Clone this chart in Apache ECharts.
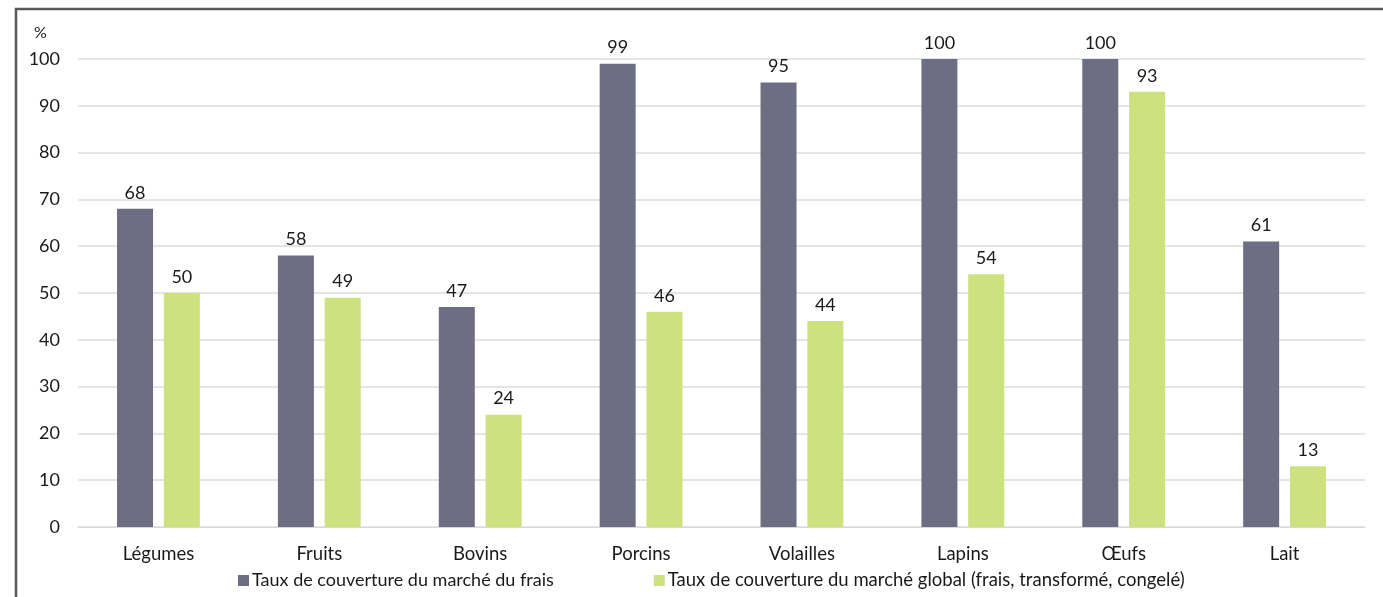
<!DOCTYPE html>
<html>
<head>
<meta charset="utf-8">
<style>
  html, body { margin: 0; padding: 0; background: #ffffff; }
  #chart { width: 1383px; height: 597px; }
</style>
<script src="https://cdn.jsdelivr.net/npm/echarts@6/dist/echarts.min.js"></script>
</head>
<body>
<div id="chart"></div>
<script>
// Products
var categories = ['Légumes', 'Fruits', 'Bovins', 'Porcins', 'Volailles', 'Lapins', 'Œufs', 'Lait'];
// Coverage of the fresh market (%)
var fraisValues = [68, 58, 47, 99, 95, 100, 100, 61];
// Coverage of the overall market: fresh, processed, frozen (%)
var globalValues = [50, 49, 24, 46, 44, 54, 93, 13];
var seriesNames = [
  'Taux de couverture du marché du frais',
  'Taux de couverture du marché global (frais, transformé, congelé)'
];

var FONT = 'Lato, "Open Sans", sans-serif';
var TEXT = '#1a1a1a';
var chart = echarts.init(document.getElementById('chart'), null, { renderer: 'canvas' });

var labelStyle = {
  show: true,
  position: 'top',
  distance: 7,
  color: TEXT,
  fontFamily: FONT,
  fontSize: 18
};

chart.setOption({
  animation: false,
  backgroundColor: '#ffffff',
  textStyle: { fontFamily: FONT },
  grid: { left: 78, right: 18, top: 59, bottom: 70, containLabel: false },
  graphic: [
    {
      type: 'polyline',
      shape: { points: [[16, 597], [16, 9], [1383, 9]] },
      style: { stroke: '#5a5a5a', lineWidth: 2.5, fill: null }
    },
    {
      type: 'text',
      left: 34,
      top: 25,
      style: { text: '%', fill: TEXT, font: '16px ' + FONT }
    }
  ],
  legend: {
    bottom: 2,
    left: 233,
    itemWidth: 11,
    itemHeight: 11,
    itemGap: 100,
    icon: 'rect',
    textStyle: { color: TEXT, fontFamily: FONT, fontSize: 18, padding: [0, 0, 0, -2] },
    data: [
      { name: seriesNames[0] },
      { name: seriesNames[1], textStyle: { fontSize: 18.5 } }
    ]
  },
  xAxis: {
    type: 'category',
    data: categories,
    axisTick: { show: false },
    axisLine: { show: true, lineStyle: { color: '#d9d9d9', width: 1 } },
    axisLabel: { color: TEXT, fontFamily: FONT, fontSize: 18.5, margin: 18 }
  },
  yAxis: {
    type: 'value',
    min: 0,
    max: 100,
    interval: 10,
    axisLine: { show: false },
    axisTick: { show: false },
    splitLine: { lineStyle: { color: '#dcdcdc', width: 1.5 } },
    axisLabel: { color: TEXT, fontFamily: FONT, fontSize: 18, margin: 18 }
  },
  series: [
    {
      name: seriesNames[0],
      type: 'bar',
      data: fraisValues,
      barWidth: 36,
      barGap: '30%',
      itemStyle: { color: '#6d6d83' },
      label: labelStyle
    },
    {
      name: seriesNames[1],
      type: 'bar',
      data: globalValues,
      barWidth: 36,
      barGap: '30%',
      itemStyle: { color: '#cde17f' },
      label: labelStyle
    }
  ]
});
</script>
</body>
</html>
